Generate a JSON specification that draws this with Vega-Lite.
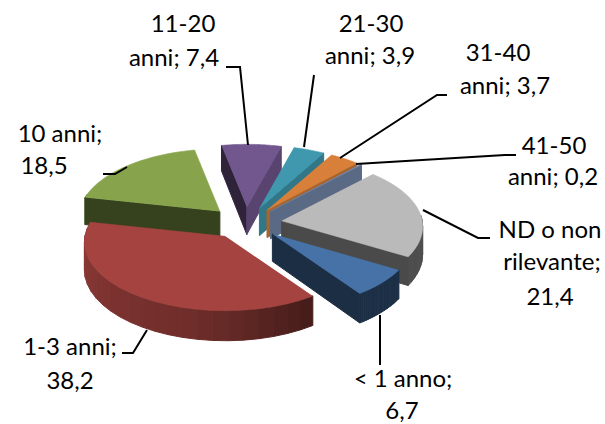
{
"$schema":"https://vega.github.io/schema/vega-lite/v6.json",
"width":605,"height":424,"padding":0,
"autosize":{"type":"fit","contains":"padding"},
"background":"white",
"config":{"view":{"stroke":null}},
"datasets":{
"slices":[
{"slice":"11-20 anni","seq":4,"value":7.4},
{"slice":"21-30 anni","seq":5,"value":3.9},
{"slice":"31-40 anni","seq":6,"value":3.7},
{"slice":"41-50 anni","seq":7,"value":0.2},
{"slice":"ND o non rilevante","seq":8,"value":21.4},
{"slice":"10 anni","seq":3,"value":18.5},
{"slice":"< 1 anno","seq":1,"value":6.7},
{"slice":"1-3 anni","seq":2,"value":38.2}
],
"labelLines":[
{"line":"11-20","lx":183,"ly":25},{"line":"anni; 7,4","lx":174,"ly":59},
{"line":"21-30","lx":371,"ly":25},{"line":"anni; 3,9","lx":370,"ly":57},
{"line":"31-40","lx":498,"ly":54},{"line":"anni; 3,7","lx":505,"ly":87},
{"line":"41-50","lx":554,"ly":147},{"line":"anni; 0,2","lx":553,"ly":178},
{"line":"ND o non","lx":550,"ly":231},{"line":"rilevante;","lx":552,"ly":263},{"line":"21,4","lx":550,"ly":298},
{"line":"< 1 anno;","lx":403,"ly":380},{"line":"6,7","lx":402,"ly":412},
{"line":"1-3 anni;","lx":70,"ly":348},{"line":"38,2","lx":70,"ly":382},
{"line":"10 anni;","lx":60,"ly":135},{"line":"18,5","lx":44,"ly":167}
],
"leaders":[
{"leader":"a","k":0,"lx":380,"ly":315},{"leader":"a","k":1,"lx":380,"ly":365},
{"leader":"b","k":0,"lx":147,"ly":330},{"leader":"b","k":1,"lx":133,"ly":353},{"leader":"b","k":2,"lx":122,"ly":353},
{"leader":"c","k":0,"lx":127,"ly":167},{"leader":"c","k":1,"lx":115,"ly":174},{"leader":"c","k":2,"lx":103,"ly":174},
{"leader":"d","k":0,"lx":248,"ly":145},{"leader":"d","k":1,"lx":240,"ly":67},{"leader":"d","k":2,"lx":226,"ly":67},
{"leader":"e","k":0,"lx":304,"ly":147},{"leader":"e","k":1,"lx":314,"ly":75},
{"leader":"f","k":0,"lx":340,"ly":158},{"leader":"f","k":1,"lx":437,"ly":95},{"leader":"f","k":2,"lx":447,"ly":95},
{"leader":"g","k":0,"lx":356,"ly":164},{"leader":"g","k":1,"lx":505,"ly":155},{"leader":"g","k":2,"lx":516,"ly":155},
{"leader":"h","k":0,"lx":423,"ly":210},{"leader":"h","k":1,"lx":478,"ly":238},{"leader":"h","k":2,"lx":490,"ly":238}
]
},
"layer":[
{
"data":{"name":"slices"},
"transform":[
{"window":[{"op":"sum","field":"value","as":"cum"}],"sort":[{"field":"seq","order":"ascending"}]},
{"calculate":"120.5+(datum.cum-datum.value)*3.6","as":"a0"},
{"calculate":"120.5+datum.cum*3.6","as":"a1"},
{"calculate":"(datum.a0+datum.a1)/2*PI/180","as":"m"},
{"calculate":"245.5+36.5*sin(datum.m)","as":"ex"},
{"calculate":"223-16*cos(datum.m)","as":"ey"},
{"calculate":"sequence(0,26)","as":"parts"},
{"flatten":["parts"],"as":["p"]},
{"calculate":"[0,1,2,3,4]","as":"cs"},
{"flatten":["cs"],"as":["c"]},
{"calculate":"datum.p<24?datum.a0+(datum.a1-datum.a0)*(datum.p+0.5)/24:(datum.p==24?datum.a0-90:datum.a1+90)","as":"nb0"},
{"calculate":"((datum.nb0%360)+360)%360","as":"nb"},
{"filter":"datum.p<24?(datum.nb>85&&datum.nb<285):(datum.nb>95&&datum.nb<265)"},
{"calculate":"(datum.p<24?datum.a0+(datum.a1-datum.a0)*(datum.p+((datum.c==1||datum.c==2)?1:0))/24:(datum.p==24?datum.a0:datum.a1))*PI/180","as":"th"},
{"calculate":"datum.p<24?1:((datum.c==1||datum.c==2)?1:0)","as":"rr"},
{"calculate":"(datum.c==2||datum.c==3)?1:0","as":"dn"},
{"calculate":"datum.p<24?(datum.nb<145?0.58:(datum.nb<190?0.58-(datum.nb-145)*0.0055:0.33-(datum.nb-190)*0.0022)):(datum.nb<140?0.22:0.6)","as":"shade"},
{"calculate":"[[70,114,168],[164,67,63],[135,164,76],[114,87,142],[63,152,174],[216,128,58],[116,136,170],[186,186,186]][datum.seq-1]","as":"base"},
{"calculate":"'rgb('+round(datum.base[0]*(1-datum.shade))+','+round(datum.base[1]*(1-datum.shade))+','+round(datum.base[2]*(1-datum.shade))+')'","as":"col"},
{"calculate":"datum.seq+'-'+datum.p","as":"key"},
{"calculate":"1/(1+0.085*datum.rr*cos(datum.th))","as":"s"},
{"calculate":"datum.ex+140.5*datum.s*datum.rr*sin(datum.th)","as":"px"},
{"calculate":"datum.ey-68*datum.s*datum.rr*cos(datum.th)+datum.dn*27.5*datum.s","as":"py"}
],
"mark":{"type":"line","filled":true,"strokeWidth":1},
"encoding":{
"x":{"field":"px","type":"quantitative","scale":{"domain":[0,605]},"axis":null},
"y":{"field":"py","type":"quantitative","scale":{"domain":[424,0]},"axis":null},
"detail":{"field":"key"},
"order":{"field":"c","type":"quantitative"},
"fill":{"field":"col","type":"nominal","scale":null},
"stroke":{"field":"col","type":"nominal","scale":null}
}
},
{
"data":{"name":"slices"},
"transform":[
{"window":[{"op":"sum","field":"value","as":"cum"}],"sort":[{"field":"seq","order":"ascending"}]},
{"calculate":"120.5+(datum.cum-datum.value)*3.6","as":"a0"},
{"calculate":"120.5+datum.cum*3.6","as":"a1"},
{"calculate":"(datum.a0+datum.a1)/2*PI/180","as":"m"},
{"calculate":"245.5+36.5*sin(datum.m)","as":"ex"},
{"calculate":"223-16*cos(datum.m)","as":"ey"},
{"calculate":"sequence(0,26)","as":"steps"},
{"flatten":["steps"],"as":["k"]},
{"calculate":"(datum.a0+(datum.a1-datum.a0)*min(datum.k,24)/24)*PI/180","as":"th"},
{"calculate":"datum.k>24?0:1","as":"rr"},
{"calculate":"1/(1+0.085*datum.rr*cos(datum.th))","as":"s"},
{"calculate":"datum.ex+140.5*datum.s*datum.rr*sin(datum.th)","as":"px"},
{"calculate":"datum.ey-68*datum.s*datum.rr*cos(datum.th)","as":"py"}
],
"mark":{"type":"line","filled":true,"strokeWidth":0.6},
"encoding":{
"x":{"field":"px","type":"quantitative","scale":{"domain":[0,605]},"axis":null},
"y":{"field":"py","type":"quantitative","scale":{"domain":[424,0]},"axis":null},
"detail":{"field":"slice"},
"order":{"field":"k","type":"quantitative"},
"fill":{"field":"slice","type":"nominal","legend":null,"scale":{
"domain":["< 1 anno","1-3 anni","10 anni","11-20 anni","21-30 anni","31-40 anni","41-50 anni","ND o non rilevante"],
"range":["#4672a8","#a4433f","#87a44c","#72578e","#3f98ae","#d8803a","#7488aa","#bababa"]}},
"stroke":{"field":"slice","type":"nominal","legend":null,"scale":{
"domain":["< 1 anno","1-3 anni","10 anni","11-20 anni","21-30 anni","31-40 anni","41-50 anni","ND o non rilevante"],
"range":["#4672a8","#a4433f","#87a44c","#72578e","#3f98ae","#d8803a","#7488aa","#bababa"]}}
}
},
{
"data":{"name":"leaders"},
"mark":{"type":"line","color":"black","strokeWidth":2},
"encoding":{
"x":{"field":"lx","type":"quantitative","scale":{"domain":[0,605]},"axis":null},
"y":{"field":"ly","type":"quantitative","scale":{"domain":[424,0]},"axis":null},
"detail":{"field":"leader"},
"order":{"field":"k","type":"quantitative"}
}
},
{
"data":{"name":"labelLines"},
"mark":{"type":"text","font":"Lato","fontSize":24,"color":"black","align":"center","baseline":"middle"},
"encoding":{
"x":{"field":"lx","type":"quantitative","scale":{"domain":[0,605]},"axis":null},
"y":{"field":"ly","type":"quantitative","scale":{"domain":[424,0]},"axis":null},
"text":{"field":"line"}
}
}
]
}
